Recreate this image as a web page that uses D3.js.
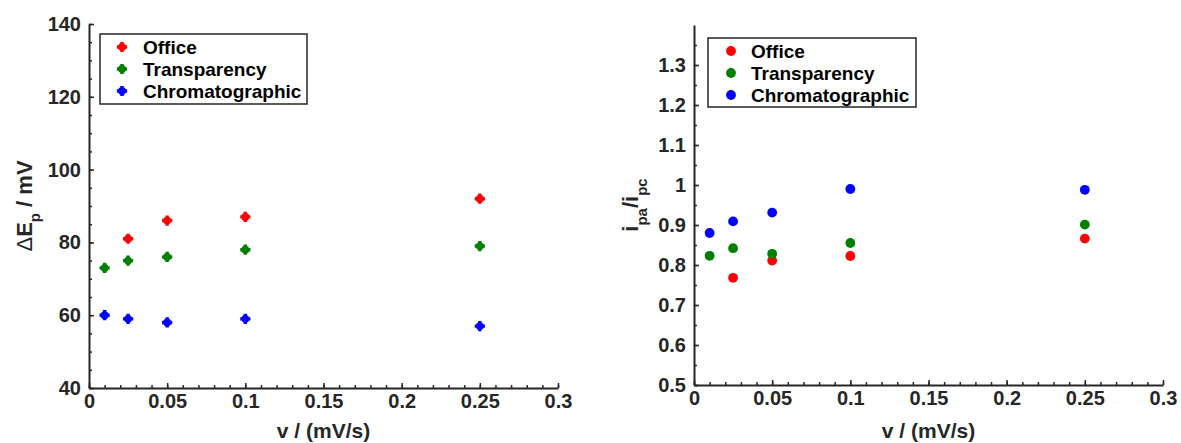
<!DOCTYPE html>
<html>
<head>
<meta charset="utf-8">
<script src="https://cdn.jsdelivr.net/npm/d3@7"></script>
<style>
  html, body { margin: 0; padding: 0; background: #fff; }
  svg { display: block; }
  text { font-family: "Liberation Sans", Arial, Helvetica, sans-serif; font-weight: bold; }
</style>
</head>
<body>
<svg id="chart" width="1181" height="443"></svg>
<script>
// Scan rates (mV/s)
const scanRates = [0.01, 0.025, 0.05, 0.1, 0.25];
const seriesNames = ["Office", "Transparency", "Chromatographic"];
const seriesColors = ["#ff0000", "#008000", "#0000ff"];

// Peak separation ΔEp (mV); null where no measurement
const dEpOffice = [null, 81, 86, 87, 92];
const dEpTransparency = [73, 75, 76, 78, 79];
const dEpChromatographic = [60, 59, 58, 59, 57];

// Peak current ratio ipa/ipc
const ratioOffice = [null, 0.768, 0.811, 0.8225, 0.866];
const ratioTransparency = [0.823, 0.842, 0.828, 0.855, 0.901];
const ratioChromatographic = [0.88, 0.909, 0.931, 0.99, 0.988];

// Tick values and labels
const xTicks = [0, 0.05, 0.1, 0.15, 0.2, 0.25, 0.3];
const xTickLabels = ["0", "0.05", "0.1", "0.15", "0.2", "0.25", "0.3"];
const dEpTicks = [40, 60, 80, 100, 120, 140];
const dEpTickLabels = ["40", "60", "80", "100", "120", "140"];
const ratioTicks = [0.5, 0.6, 0.7, 0.8, 0.9, 1.0, 1.1, 1.2, 1.3];
const ratioTickLabels = ["0.5", "0.6", "0.7", "0.8", "0.9", "1", "1.1", "1.2", "1.3"];

const svg = d3.select("#chart");
const axisColor = "#262626";

function drawPanel(opt) {
  const g = svg.append("g");
  const x = d3.scaleLinear().domain([0, 0.3]).range([opt.left, opt.left + 469]);
  const y = d3.scaleLinear().domain(opt.yDomain).range([opt.bottom, opt.top]);

  // minor ticks
  const xMinor = d3.range(0, 0.3001, 0.01);
  const yMinor = d3.range(opt.yDomain[0], opt.yMinorMax + 1e-9, opt.yMinorStep);
  g.append("g").attr("transform", `translate(0,${opt.bottom})`)
    .call(d3.axisBottom(x).tickValues(xMinor).tickSize(-3).tickSizeOuter(0).tickFormat(""))
    .call(a => a.select(".domain").remove());
  g.append("g").attr("transform", `translate(${opt.left},0)`)
    .call(d3.axisLeft(y).tickValues(yMinor).tickSize(-3).tickSizeOuter(0).tickFormat(""))
    .call(a => a.select(".domain").remove());

  // major axes
  const xa = g.append("g").attr("transform", `translate(0,${opt.bottom})`)
    .call(d3.axisBottom(x).tickValues(xTicks).tickSize(-5).tickSizeOuter(0).tickPadding(6)
      .tickFormat((d, i) => xTickLabels[i]));
  const ya = g.append("g").attr("transform", `translate(${opt.left},0)`)
    .call(d3.axisLeft(y).tickValues(opt.yTicks).tickSize(-5).tickSizeOuter(0).tickPadding(8)
      .tickFormat((d, i) => opt.yTickLabels[i]));
  [xa, ya].forEach(a => {
    a.selectAll("path, line").attr("stroke", axisColor).attr("stroke-width", 2);
    a.selectAll("text").attr("fill", axisColor).style("font-size", "20px");
  });
  g.selectAll(".tick line").attr("stroke", axisColor).attr("stroke-width", 1.5);

  // x label
  g.append("text")
    .attr("x", opt.left + 469 / 2).attr("y", 438)
    .attr("text-anchor", "middle").attr("fill", axisColor)
    .style("font-size", "21px")
    .text("v / (mV/s)");

  // y label
  const yl = g.append("text")
    .attr("transform", `translate(${opt.yLabelX},${(opt.top + opt.bottom) / 2}) rotate(-90)`)
    .attr("text-anchor", "middle").attr("fill", axisColor)
    .style("font-size", "22px");
  opt.yLabel.forEach(part => {
    const ts = yl.append("tspan").attr("dy", part.dy || 0)
      .style("font-size", part.sub ? "15px" : "22px")
      .text(part.t);
    if (part.light) ts.style("font-weight", "normal");
  });

  // data
  opt.series.forEach((vals, si) => {
    const pts = scanRates.map((r, i) => ({ r, v: vals[i] })).filter(d => d.v != null);
    const sg = g.append("g").attr("fill", seriesColors[si]);
    pts.forEach(d => drawMarker(sg, x(d.r), y(d.v), opt.marker));
  });

  // legend
  const lg = g.append("g");
  lg.append("rect")
    .attr("x", opt.legend.x).attr("y", opt.legend.y)
    .attr("width", opt.legend.w).attr("height", opt.legend.h)
    .attr("fill", "#fff").attr("stroke", axisColor).attr("stroke-width", 1.5);
  seriesNames.forEach((name, i) => {
    const cy = opt.legend.rows[i];
    drawMarker(lg.append("g").attr("fill", seriesColors[i]), opt.legend.mx, cy, opt.marker);
    lg.append("text").attr("x", opt.legend.tx).attr("y", cy).attr("dy", "0.36em")
      .attr("fill", "#000").style("font-size", "19px").text(name);
  });
}

function drawMarker(sel, cx, cy, kind) {
  if (kind === "cross") {
    sel.append("path")
      .attr("transform", `translate(${cx},${cy})`)
      .attr("d", d3.symbol(d3.symbolCross, 58)());
    sel.append("circle").attr("cx", cx).attr("cy", cy).attr("r", 3.9);
  } else {
    sel.append("circle").attr("cx", cx).attr("cy", cy).attr("r", 4.9);
  }
}

drawPanel({
  left: 89, top: 24, bottom: 388,
  yDomain: [40, 140], yTicks: dEpTicks, yTickLabels: dEpTickLabels,
  yMinorStep: 5, yMinorMax: 140,
  series: [dEpOffice, dEpTransparency, dEpChromatographic],
  marker: "cross",
  yLabelX: 32,
  yLabel: [{ t: "\u0394", light: true }, { t: "E" }, { t: "p", sub: true, dy: 8 }, { t: " / mV", dy: -8 }],
  legend: { x: 100, y: 34, w: 207, h: 70, rows: [47, 69, 91], mx: 122, tx: 143 }
});

drawPanel({
  left: 694, top: 25, bottom: 385,
  yDomain: [0.5, 1.4], yTicks: ratioTicks, yTickLabels: ratioTickLabels,
  yMinorStep: 0.05, yMinorMax: 1.35,
  series: [ratioOffice, ratioTransparency, ratioChromatographic],
  marker: "circle",
  yLabelX: 638,
  yLabel: [{ t: "i" }, { t: "pa", sub: true, dy: 9 }, { t: "/i", dy: -9 }, { t: "pc", sub: true, dy: 9 }],
  legend: { x: 708, y: 38, w: 208, h: 69, rows: [51, 73, 95], mx: 731, tx: 751 }
});
</script>
</body>
</html>
